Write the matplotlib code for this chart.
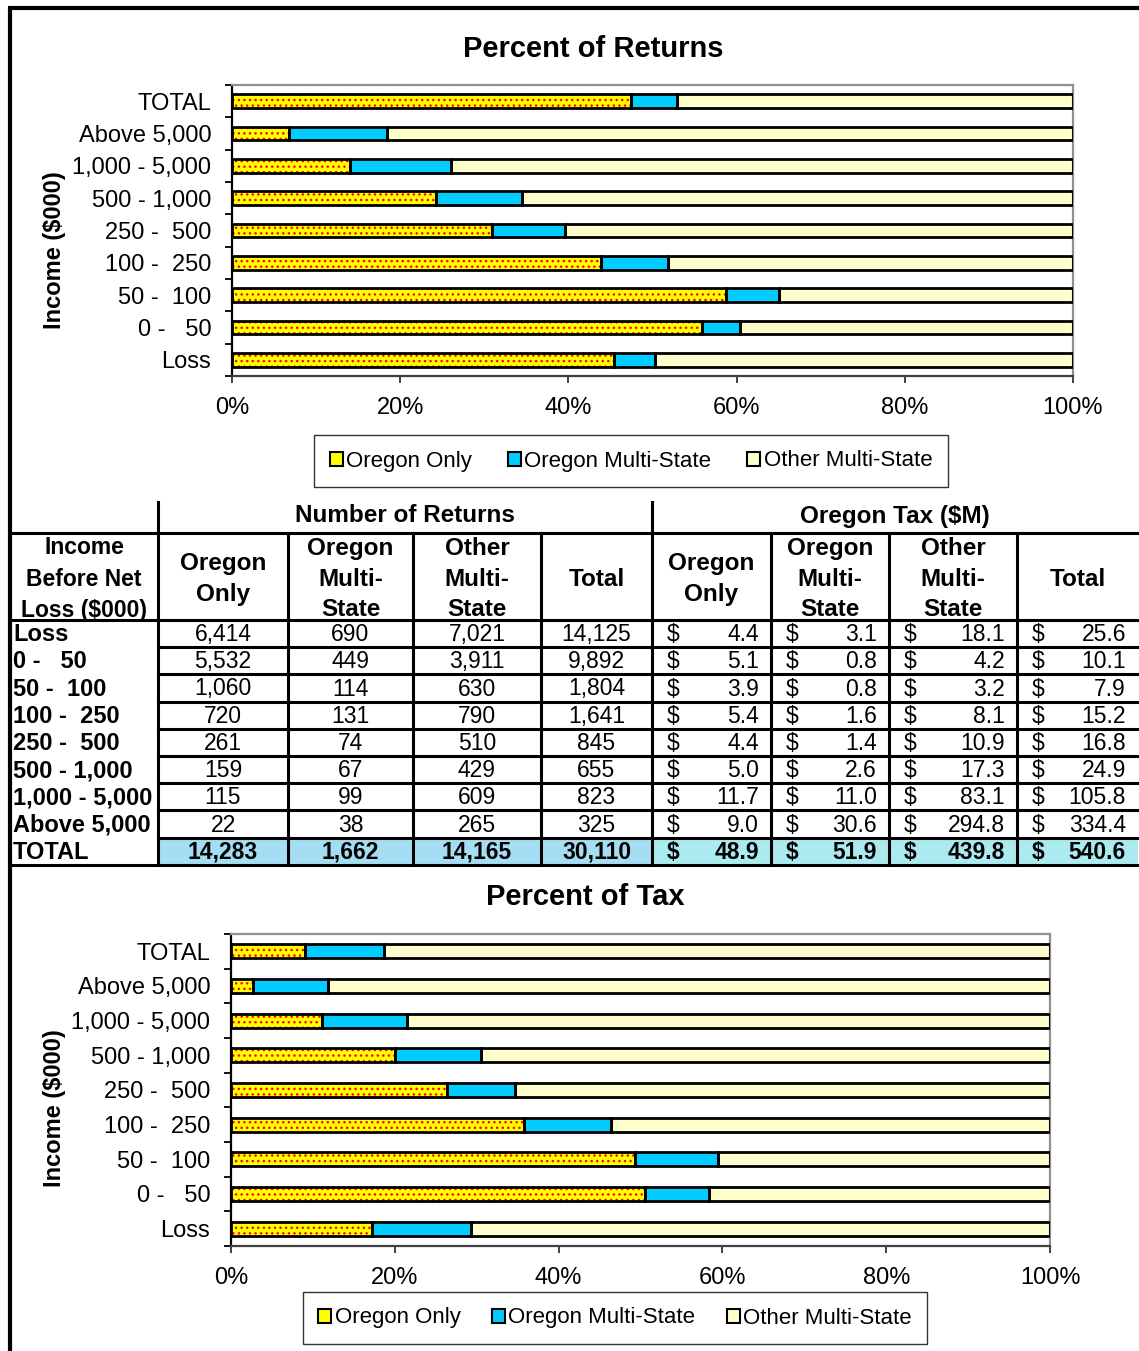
import numpy as np
import matplotlib
matplotlib.use('Agg')
import matplotlib.pyplot as plt
from matplotlib.patches import Patch, Rectangle

plt.rcParams['font.family'] = ['Liberation Sans', 'DejaVu Sans']
plt.rcParams['hatch.linewidth'] = 1.0

# rows, bottom to top in the charts, top to bottom in the table
income = ['Loss', '0 -   50', '50 -  100', '100 -  250', '250 -  500',
          '500 - 1,000', '1,000 - 5,000', 'Above 5,000', 'TOTAL']

returns_or_only = [6414, 5532, 1060, 720, 261, 159, 115, 22, 14283]
returns_or_multi = [690, 449, 114, 131, 74, 67, 99, 38, 1662]
returns_other = [7021, 3911, 630, 790, 510, 429, 609, 265, 14165]
returns_total = [14125, 9892, 1804, 1641, 845, 655, 823, 325, 30110]

tax_or_only = [4.4, 5.1, 3.9, 5.4, 4.4, 5.0, 11.7, 9.0, 48.9]
tax_or_multi = [3.1, 0.8, 0.8, 1.6, 1.4, 2.6, 11.0, 30.6, 51.9]
tax_other = [18.1, 4.2, 3.2, 8.1, 10.9, 17.3, 83.1, 294.8, 439.8]
tax_total = [25.6, 10.1, 7.9, 15.2, 16.8, 24.9, 105.8, 334.4, 540.6]

series_names = ['Oregon Only', 'Oregon Multi-State', 'Other Multi-State']
x_ticks = [0, 0.2, 0.4, 0.6, 0.8, 1.0]

YELLOW = '#FFFF00'
BLUE = '#00CCFF'
CREAM = '#FFFFCC'

W, H = 1139, 1351
fig = plt.figure(figsize=(W / 100, H / 100), dpi=100)


def stacked_chart(rect, parts, bar_h):
    ax = fig.add_axes(rect)
    y = np.arange(len(income))
    tot = np.array(parts[0]) + np.array(parts[1]) + np.array(parts[2])
    shares = [np.array(p) / tot for p in parts]
    left = np.zeros(len(income))
    for i, sh in enumerate(shares):
        if i == 0:
            ax.barh(y, sh, left=left, height=bar_h, color=YELLOW,
                    edgecolor='#FF0000', hatch='...', linewidth=0, zorder=2)
        else:
            ax.barh(y, sh, left=left, height=bar_h,
                    color=[BLUE, CREAM][i - 1], linewidth=0, zorder=2)
        ax.barh(y, sh, left=left, height=bar_h, fill=False,
                edgecolor='black', linewidth=2.0, zorder=3)
        left = left + sh
    ax.set_xlim(0, 1)
    ax.set_ylim(-0.5, len(income) - 0.5)
    ax.set_yticks(y)
    ax.set_yticklabels(income, fontsize=17)
    ax.set_yticks(np.arange(-0.5, len(income)), minor=True)
    ax.tick_params(axis='y', which='major', length=0, pad=15)
    ax.tick_params(axis='y', which='minor', length=5, width=1.3, color='black')
    ax.set_xticks(x_ticks)
    ax.set_xticklabels([f'{int(round(t * 100))}%' for t in x_ticks], fontsize=17)
    ax.tick_params(axis='x', length=5, width=1.3, color='#333333', pad=10)
    for s in ['top', 'right']:
        ax.spines[s].set_color('#909090')
        ax.spines[s].set_linewidth(1.6)
    ax.spines['left'].set_color('black')
    ax.spines['left'].set_linewidth(1.6)
    ax.spines['bottom'].set_color('#404040')
    ax.spines['bottom'].set_linewidth(1.6)
    return ax


def legend_at(cx, cy, spacing):
    handles = [Patch(facecolor=YELLOW, edgecolor='black', linewidth=1.5),
               Patch(facecolor=BLUE, edgecolor='black', linewidth=1.5),
               Patch(facecolor=CREAM, edgecolor='black', linewidth=1.5)]
    leg = fig.legend(handles, series_names, loc='center',
                     bbox_to_anchor=(cx / W, 1 - cy / H), ncol=3, fontsize=16,
                     frameon=True, fancybox=False, handlelength=0.6,
                     handleheight=0.6, handletextpad=0.15,
                     columnspacing=spacing, borderpad=0.7)
    leg.get_frame().set_edgecolor('black')
    leg.get_frame().set_linewidth(1.0)


# top chart: percent of returns
stacked_chart([232 / W, 1 - 376 / H, 841 / W, 291 / H],
              [returns_or_only, returns_or_multi, returns_other], 0.43)
legend_at(631, 461, 1.6)

# bottom chart: percent of tax
stacked_chart([231 / W, 1 - 1246 / H, 819 / W, 312 / H],
              [tax_or_only, tax_or_multi, tax_other], 0.40)
legend_at(615, 1318, 1.4)

# overlay in pixel coordinates for titles, table and frame
ov = fig.add_axes([0, 0, 1, 1], zorder=5)
ov.set_xlim(0, W)
ov.set_ylim(H, 0)
ov.axis('off')

ov.text(593, 49, 'Percent of Returns', ha='center', va='center',
        fontsize=21, fontweight='bold')
ov.text(585, 897, 'Percent of Tax', ha='center', va='center',
        fontsize=21, fontweight='bold')
for yc in (250, 1108):
    ov.text(55, yc, 'Income ($000)', ha='center', va='center', rotation=90,
            fontsize=17, fontweight='bold')

# page frame
LW = 2.2
ov.plot([8, W], [8, 8], color='black', lw=3.0, solid_capstyle='butt')
ov.plot([9.5, 9.5], [7, H], color='black', lw=3.0, solid_capstyle='butt')

# table
cols = [10, 158, 288, 413, 541, 652, 771, 889, 1017, 1138]
top, h1, h2 = 502, 533, 620
row_h = 27.2
rows = [h2 + i * row_h for i in range(len(income) + 1)]

ov.add_patch(Rectangle((cols[1], rows[-2]), cols[5] - cols[1], row_h,
                       facecolor='#A5DDF3', edgecolor='none', zorder=1))
ov.add_patch(Rectangle((cols[5], rows[-2]), cols[9] - cols[5], row_h,
                       facecolor='#ABEBF0', edgecolor='none', zorder=1))

# header texts
ov.text((cols[1] + cols[5]) / 2, 516, 'Number of Returns', ha='center',
        va='center', fontsize=17.5, fontweight='bold', zorder=2)
ov.text((cols[5] + cols[9]) / 2, 516, 'Oregon Tax ($M)', ha='center',
        va='center', fontsize=17.5, fontweight='bold', zorder=2)
sub_heads = ['Oregon\nOnly', 'Oregon\nMulti-\nState', 'Other\nMulti-\nState', 'Total']
ov.text((cols[0] + cols[1]) / 2, 579, 'Income\nBefore Net\nLoss ($000)',
        ha='center', va='center', fontsize=16.5, fontweight='bold',
        linespacing=1.5, zorder=2)
for k in range(8):
    xc = (cols[k + 1] + cols[k + 2]) / 2
    ov.text(xc, 579, sub_heads[k % 4], ha='center', va='center', fontsize=17.5,
            fontweight='bold', linespacing=1.42, zorder=2)

# body
n = len(income)
for i in range(n):
    yc = rows[i] + row_h / 2 + 1
    bold = 'bold' if i == n - 1 else 'normal'
    ov.text(13, yc, income[i], ha='left', va='center', fontsize=17,
            fontweight='bold', zorder=2)
    for k, vals in enumerate([returns_or_only, returns_or_multi, returns_other, returns_total]):
        xc = (cols[k + 1] + cols[k + 2]) / 2
        ov.text(xc, yc, f'{vals[i]:,}', ha='center', va='center', fontsize=16.5,
                fontweight=bold, zorder=2)
    for k, vals in enumerate([tax_or_only, tax_or_multi, tax_other, tax_total]):
        x0, x1 = cols[k + 5], cols[k + 6]
        ov.text(x0 + 15, yc, '$', ha='left', va='center', fontsize=16.5,
                fontweight=bold, zorder=2)
        ov.text(x1 - 12, yc, f'{vals[i]:.1f}', ha='right', va='center',
                fontsize=16.5, fontweight=bold, zorder=2)

# grid lines of the table
for y in (h1, h2, rows[-1]):
    ov.plot([cols[0], W], [y, y], color='black', lw=LW, zorder=4)
for y in rows[1:-1]:
    ov.plot([cols[1], W], [y, y], color='black', lw=LW, zorder=4)
for x in (cols[1], cols[5]):
    ov.plot([x, x], [top, rows[-1]], color='black', lw=LW, zorder=4)
for x in cols[2:5] + cols[6:9]:
    ov.plot([x, x], [h1, rows[-1]], color='black', lw=LW, zorder=4)

fig.savefig('out.png', dpi=100)
